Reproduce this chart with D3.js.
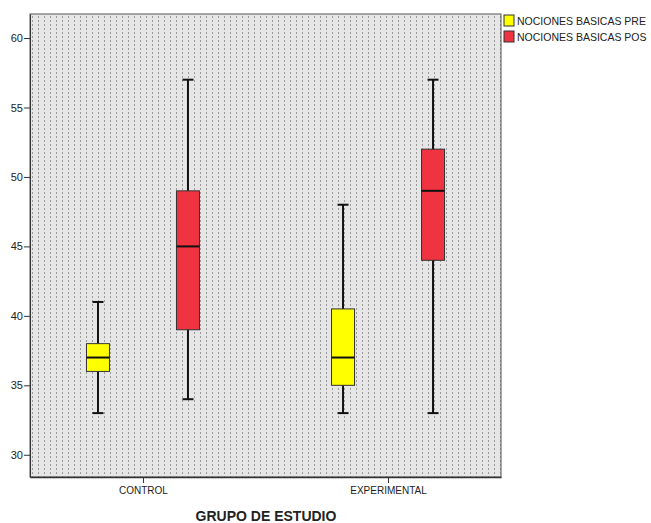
<!DOCTYPE html>
<html>
<head>
<meta charset="utf-8">
<script src="https://cdn.jsdelivr.net/npm/d3@7"></script>
<style>
  body { margin: 0; background: #fff; }
  svg text { font-family: "Liberation Sans", Arial, sans-serif; fill: #222; }
</style>
</head>
<body>
<div id="container"></div>
<script>
// data
const groups = ["CONTROL", "EXPERIMENTAL"];
const seriesNames = ["NOCIONES BASICAS PRE", "NOCIONES BASICAS POS"];
const seriesColors = ["#ffff00", "#ef3340"];
// [min, q1, median, q3, max]
const preStats = [[33, 36, 37, 38, 41], [33, 35, 37, 40.5, 48]];
const posStats = [[34, 39, 45, 49, 57], [33, 44, 49, 52, 57]];
const yTicks = [30, 35, 40, 45, 50, 55, 60];

const width = 651, height = 523;
const plot = { left: 30, top: 14, right: 501, bottom: 477 };

const svg = d3.select("#container").append("svg")
  .attr("width", width).attr("height", height);

const defs = svg.append("defs");
const pat = defs.append("pattern")
  .attr("id", "dots").attr("patternUnits", "userSpaceOnUse")
  .attr("width", 6).attr("height", 4);
pat.append("rect").attr("width", 6).attr("height", 4).attr("fill", "#e6e6e6");
pat.append("rect").attr("x", 2).attr("y", 0).attr("width", 1).attr("height", 2).attr("fill", "#9a9a9a");

const y = d3.scaleLinear().domain([28.4, 61.73]).range([plot.bottom, plot.top]);
const x = d3.scalePoint().domain(groups).range([plot.left, plot.right]).padding(0.461);
const offset = i => (i === 0 ? -45 : 45);

// background
svg.append("rect")
  .attr("x", plot.left).attr("y", plot.top)
  .attr("width", plot.right - plot.left).attr("height", plot.bottom - plot.top)
  .attr("fill", "url(#dots)").attr("stroke", "#555").attr("stroke-width", 1);

// y axis
const yAxis = svg.append("g")
  .attr("transform", `translate(${plot.left},0)`)
  .call(d3.axisLeft(y).tickValues(yTicks).tickSize(6).tickSizeOuter(0).tickPadding(1));
yAxis.select(".domain").attr("stroke", "#333");
yAxis.selectAll("line").attr("stroke", "#333");
yAxis.selectAll("text").style("font-size", "11px").attr("fill", "#222");

// x axis
const xAxis = svg.append("g")
  .attr("transform", `translate(0,${plot.bottom})`)
  .call(d3.axisBottom(x).tickSize(6).tickSizeOuter(0).tickPadding(4));
xAxis.select(".domain").attr("stroke", "#333").attr("stroke-width", 1.5);
xAxis.selectAll("line").attr("stroke", "#333");
xAxis.selectAll("text").style("font-size", "10px").attr("fill", "#222");

// boxes
const boxW = 23, capW = 11;
const rows = [];
groups.forEach((g, gi) => {
  [preStats[gi], posStats[gi]].forEach((s, si) => {
    rows.push({ g, si, s, cx: x(g) + offset(si) });
  });
});

const box = svg.selectAll(".box").data(rows).join("g").attr("class", "box");
box.append("line")
  .attr("x1", d => d.cx).attr("x2", d => d.cx)
  .attr("y1", d => y(d.s[0])).attr("y2", d => y(d.s[4]))
  .attr("stroke", "#111").attr("stroke-width", 2);
box.selectAll(".cap").data(d => [[d.cx, d.s[0]], [d.cx, d.s[4]]]).join("line")
  .attr("class", "cap")
  .attr("x1", d => d[0] - capW / 2).attr("x2", d => d[0] + capW / 2)
  .attr("y1", d => y(d[1])).attr("y2", d => y(d[1]))
  .attr("stroke", "#111").attr("stroke-width", 2);
box.append("rect")
  .attr("x", d => d.cx - boxW / 2).attr("width", boxW)
  .attr("y", d => y(d.s[3])).attr("height", d => y(d.s[1]) - y(d.s[3]))
  .attr("fill", d => seriesColors[d.si]).attr("stroke", "#333").attr("stroke-width", 1);
box.append("line")
  .attr("x1", d => d.cx - boxW / 2).attr("x2", d => d.cx + boxW / 2)
  .attr("y1", d => y(d.s[2])).attr("y2", d => y(d.s[2]))
  .attr("stroke", "#111").attr("stroke-width", 2);

// legend
const leg = svg.selectAll(".leg").data(seriesNames).join("g")
  .attr("class", "leg")
  .attr("transform", (d, i) => `translate(504,${15 + i * 16})`);
leg.append("rect").attr("width", 10).attr("height", 11)
  .attr("fill", (d, i) => seriesColors[i]).attr("stroke", "#333");
leg.append("text").attr("x", 13).attr("y", 10)
  .style("font-size", "10.5px").text(d => d);

// axis title
svg.append("text")
  .attr("x", 266).attr("y", 521).attr("text-anchor", "middle")
  .style("font-size", "14px").style("font-weight", "bold")
  .text("GRUPO DE ESTUDIO");
</script>
</body>
</html>
